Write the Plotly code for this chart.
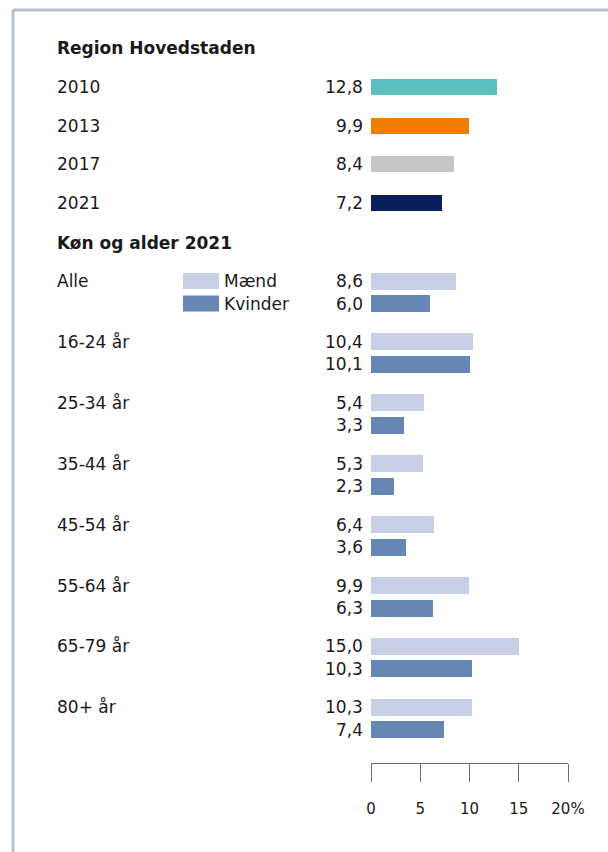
import plotly.graph_objects as go

# Region Hovedstaden, share (%) by survey year
years = ["2010", "2013", "2017", "2021"]
year_values = [12.8, 9.9, 8.4, 7.2]
year_colors = ["#5cc0c0", "#ef7d00", "#c6c6c6", "#0a1f5a"]

# Sex and age, 2021
age_groups = ["Alle", "16-24 år", "25-34 år", "35-44 år", "45-54 år", "55-64 år", "65-79 år", "80+ år"]
men = [8.6, 10.4, 5.4, 5.3, 6.4, 9.9, 15.0, 10.3]
women = [6.0, 10.1, 3.3, 2.3, 3.6, 6.3, 10.3, 7.4]

tick_vals = [0, 5, 10, 15, 20]
tick_text = ["0", "5", "10", "15", "20%"]

W, H = 608, 852
FONT = "DejaVu Sans"
TXT = "#1a1a1a"
MEN_C = "#c6cfe5"
WOMEN_C = "#6686b3"

# vertical layout (y axis runs in pixel units, top = 0)
top_y0, top_step, top_bar = 87, 38.7, 16
grp_y0, grp_step, pair_off, pair_bar = 281, 60.9, 22.5, 17
label_x = 55 / W

def fmt(v):
    return f"{v:.1f}".replace(".", ",")

fig = go.Figure()
annotations = []

year_y = [top_y0 + i * top_step for i in range(len(years))]
fig.add_trace(go.Bar(
    x=year_values, y=year_y, orientation="h", width=top_bar,
    marker=dict(color=year_colors, line=dict(width=0)),
    hoverinfo="skip", showlegend=False,
))
for lab, v, y in zip(years, year_values, year_y):
    annotations.append(dict(x=label_x, xref="paper", y=y, yref="y", text=lab,
                            xanchor="left", showarrow=False))
    annotations.append(dict(x=0, xref="x", y=y, yref="y", text=fmt(v),
                            xanchor="right", xshift=-6, showarrow=False))

men_y = [grp_y0 + i * grp_step for i in range(len(age_groups))]
women_y = [y + pair_off for y in men_y]
fig.add_trace(go.Bar(
    x=men, y=men_y, orientation="h", width=pair_bar, name="Mænd",
    marker=dict(color=MEN_C, line=dict(width=0)), hoverinfo="skip", showlegend=False,
))
fig.add_trace(go.Bar(
    x=women, y=women_y, orientation="h", width=pair_bar, name="Kvinder",
    marker=dict(color=WOMEN_C, line=dict(width=0)), hoverinfo="skip", showlegend=False,
))
for lab, m, w, ym, yw in zip(age_groups, men, women, men_y, women_y):
    annotations.append(dict(x=label_x, xref="paper", y=ym, yref="y", text=lab,
                            xanchor="left", showarrow=False))
    annotations.append(dict(x=0, xref="x", y=ym, yref="y", text=fmt(m),
                            xanchor="right", xshift=-6, showarrow=False))
    annotations.append(dict(x=0, xref="x", y=yw, yref="y", text=fmt(w),
                            xanchor="right", xshift=-6, showarrow=False))

# section headings
annotations.append(dict(x=label_x, xref="paper", y=48, yref="y",
                        text="<b>Region Hovedstaden</b>", xanchor="left", showarrow=False))
annotations.append(dict(x=label_x, xref="paper", y=243, yref="y",
                        text="<b>Køn og alder 2021</b>", xanchor="left", showarrow=False))

# legend swatches
shapes = []
for name, col, y in [("Mænd", MEN_C, men_y[0]), ("Kvinder", WOMEN_C, women_y[0])]:
    shapes.append(dict(type="rect", xref="paper", yref="y",
                       x0=183 / W, x1=219 / W, y0=y - 8, y1=y + 8,
                       fillcolor=col, line=dict(width=0)))
    annotations.append(dict(x=222 / W, xref="paper", y=y, yref="y", text=name,
                            xanchor="left", showarrow=False))

# frame lines on top and left
shapes.append(dict(type="line", xref="paper", yref="paper", x0=13 / W, x1=1,
                   y0=1 - 10 / H, y1=1 - 10 / H, line=dict(color="#b4c0d8", width=3)))
shapes.append(dict(type="line", xref="paper", yref="paper", x0=13 / W, x1=13 / W,
                   y0=0, y1=1 - 10 / H, line=dict(color="#b4c0d8", width=3)))

fig.update_layout(
    width=W, height=H,
    # fixed zero margins so paper coordinates equal page pixels
    margin=dict(l=0, r=0, t=0, b=0, autoexpand=False),
    paper_bgcolor="white", plot_bgcolor="white",
    font=dict(family=FONT, size=17, color=TXT),
    bargap=0,
    annotations=annotations,
    shapes=shapes,
    xaxis=dict(
        domain=[371 / W, 568 / W], range=[0, 20],
        anchor="free", position=1 - 763 / H,
        automargin=False,
        showgrid=False, zeroline=False,
        showline=True, linecolor="#6e6e6e", linewidth=1,
        ticks="outside", ticklen=18, tickwidth=1, tickcolor="#6e6e6e",
        tickvals=tick_vals, ticktext=tick_text,
        tickfont=dict(size=15, color=TXT), ticklabelstandoff=14,
        fixedrange=True,
    ),
    yaxis=dict(
        domain=[0, 1], range=[H, 0], visible=False, fixedrange=True,
        automargin=False,
    ),
)

fig.write_html("out.html", config={"responsive": False, "displayModeBar": False})
